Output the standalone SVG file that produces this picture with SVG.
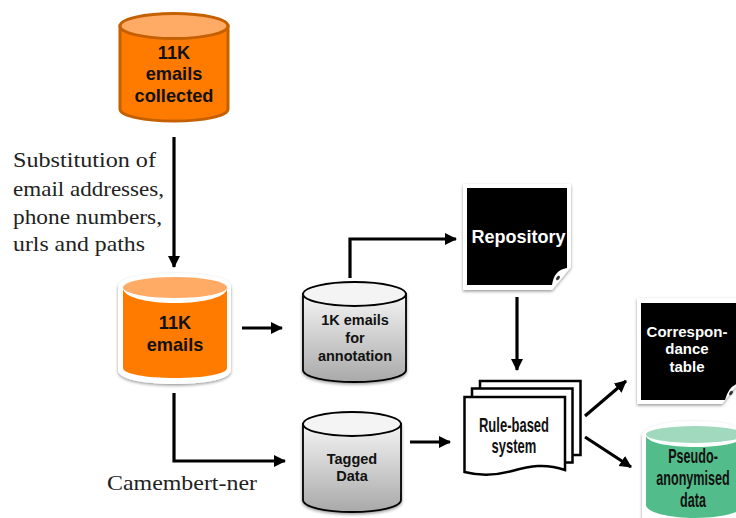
<svg xmlns="http://www.w3.org/2000/svg" width="736" height="518" viewBox="0 0 736 518">
<style>
.b{font-family:"Liberation Sans",Arial,sans-serif;font-weight:bold;text-anchor:middle;fill:#111}
.s{font-family:"Liberation Serif","Times New Roman",serif;font-size:21px;fill:#222}
.n{font-family:"Liberation Sans",Arial,sans-serif;font-weight:bold;text-anchor:middle;fill:#111;font-size:20px}
.c{fill:none;stroke:#000;stroke-width:3.200}
</style>
<defs>
<marker id="a" markerUnits="userSpaceOnUse" markerWidth="14" markerHeight="14" refX="11" refY="6" orient="auto"><path d="M0 0L12 6L0 12Z" fill="#000"/></marker>
<linearGradient id="g" x1="0" y1="0" x2="0" y2="1"><stop offset="0" stop-color="#f4f4f4"/><stop offset="1" stop-color="#a9a9a9"/></linearGradient>
<filter id="h" x="-10%" y="-10%" width="125%" height="125%"><feDropShadow dx="0" dy="1.500" stdDeviation="1.500" flood-color="#000" flood-opacity=".4"/></filter>
</defs>
<g id="connectors" class="c">
<path marker-end="url(#a)" d="M174 137V267"/>
<path marker-end="url(#a)" d="M242 328H282"/>
<path marker-end="url(#a)" d="M350 278V239H456"/>
<path marker-end="url(#a)" d="M517 297V370"/>
<path marker-end="url(#a)" d="M174 393V461H285"/>
<path marker-end="url(#a)" d="M410 442H450"/>
<path marker-end="url(#a)" d="M585 416L626 381"/>
<path marker-end="url(#a)" d="M585 437L631 467"/>
</g>
<g id="n1">
<path d="M120 26V109C120 116 144 121 174 121S228 116 228 109V26Z" fill="#ff7b00" stroke="#c46000" stroke-width="3"/>
<ellipse cx="174" cy="26" rx="54" ry="12.500" fill="#ffab66" stroke="#c46000" stroke-width="3"/>
<text class="b" font-size="18.200" x="174" y="59">11K</text>
<text class="b" font-size="18.200" x="174" y="80">emails</text>
<text class="b" font-size="18.200" x="174" y="102">collected</text>
</g>
<g id="n2">
<path d="M118 287C118 278 143 273 174.500 273S231 278 231 287V370C231 379 206 384 174.500 384S118 379 118 370Z" fill="#fff" filter="url(#h)"/>
<path d="M123 288V368C123 374 146 378 175 378S227 374 227 368V288Z" fill="#ff7b00"/>
<path d="M123 288C123 297 146 303 175 303S227 297 227 288Z" fill="#fff"/>
<ellipse cx="175" cy="287.500" rx="52" ry="10.500" fill="#ffab66"/>
<text class="b" font-size="18.200" x="175" y="329">11K</text>
<text class="b" font-size="18.200" x="175" y="351">emails</text>
</g>
<g id="n3">
<path d="M303 294V370C303 377 326 382 354.500 382S406 377 406 370V294Z" fill="url(#g)" stroke="#000" stroke-width="1.800" filter="url(#h)"/>
<ellipse cx="354.500" cy="294" rx="51.500" ry="12" fill="#f4f4f4" stroke="#000" stroke-width="1.800"/>
<text class="b" font-size="14.500" x="355" y="325">1K emails</text>
<text class="b" font-size="14.500" x="355" y="343">for</text>
<text class="b" font-size="14.500" x="355" y="361">annotation</text>
</g>
<g id="n4">
<path d="M303 424V500C303 507 325 512 352 512S401 507 401 500V424Z" fill="url(#g)" stroke="#000" stroke-width="1.800" filter="url(#h)"/>
<ellipse cx="352" cy="424" rx="49" ry="12" fill="#f4f4f4" stroke="#000" stroke-width="1.800"/>
<text class="b" font-size="14.500" x="352" y="464">Tagged</text>
<text class="b" font-size="14.500" x="352" y="481">Data</text>
</g>
<g id="n5">
<path d="M463 184H571V267L552 290H463Z" fill="#fff" filter="url(#h)"/>
<path d="M467 188H567V268Q554 270 552 285H467Z" fill="#000"/>
<ellipse cx="558" cy="278" rx="2.500" ry="1.500" transform="rotate(-50 558 278)" fill="#333"/>
<text class="b" font-size="18" x="518.500" y="243" style="fill:#fff">Repository</text>
</g>
<g id="n6">
<path d="M637 298H740V381L722 404H637Z" fill="#fff" filter="url(#h)"/>
<path d="M641 303H740V383Q729 385 725 400H641Z" fill="#000"/>
<ellipse cx="731" cy="393" rx="2.500" ry="1.500" transform="rotate(-50 731 393)" fill="#333"/>
<text class="b" font-size="15" x="687" y="337" style="fill:#fff">Correspon-</text>
<text class="b" font-size="15" x="687" y="354" style="fill:#fff">dance</text>
<text class="b" font-size="15" x="687" y="372" style="fill:#fff">table</text>
</g>
<g id="n7">
<path d="M642 436C642 427 666 421 695 421S748 427 748 436V525H642Z" fill="#fff" filter="url(#h)"/>
<path d="M646 436V505C646 512 668 518 695 518S744 512 744 505V436Z" fill="#52bd8a"/>
<path d="M646 436C648 443 670 447 695 447S742 443 744 436Z" fill="#fff"/>
<ellipse cx="695" cy="434.500" rx="49" ry="8.500" fill="#a0d9be"/>
<text class="n" transform="translate(693 463) scale(.63 1)">Pseudo-</text>
<text class="n" transform="translate(693 485) scale(.63 1)">anonymised</text>
<text class="n" transform="translate(693 507) scale(.63 1)">data</text>
</g>
<g id="n8" fill="#fff" stroke="#000" stroke-width="2.500">
<rect x="480" y="381" width="100.500" height="74"/>
<rect x="472" y="388.500" width="100.500" height="74"/>
<path d="M464.500 397H565V470C545 463 530 466 512 471S480 476 464.500 472Z"/>
<text class="n" stroke="none" transform="translate(514 432) scale(.65 1)">Rule-based</text>
<text class="n" stroke="none" transform="translate(514 453) scale(.65 1)">system</text>
</g>
<text class="s" x="13" y="167" textLength="143" lengthAdjust="spacingAndGlyphs">Substitution of</text>
<text class="s" x="13" y="196" textLength="151" lengthAdjust="spacingAndGlyphs">email addresses,</text>
<text class="s" x="13" y="224" textLength="149" lengthAdjust="spacingAndGlyphs">phone numbers,</text>
<text class="s" x="13" y="251" textLength="132" lengthAdjust="spacingAndGlyphs">urls and paths</text>
<text class="s" x="107" y="490" textLength="150" lengthAdjust="spacingAndGlyphs">Camembert-ner</text>
</svg>
